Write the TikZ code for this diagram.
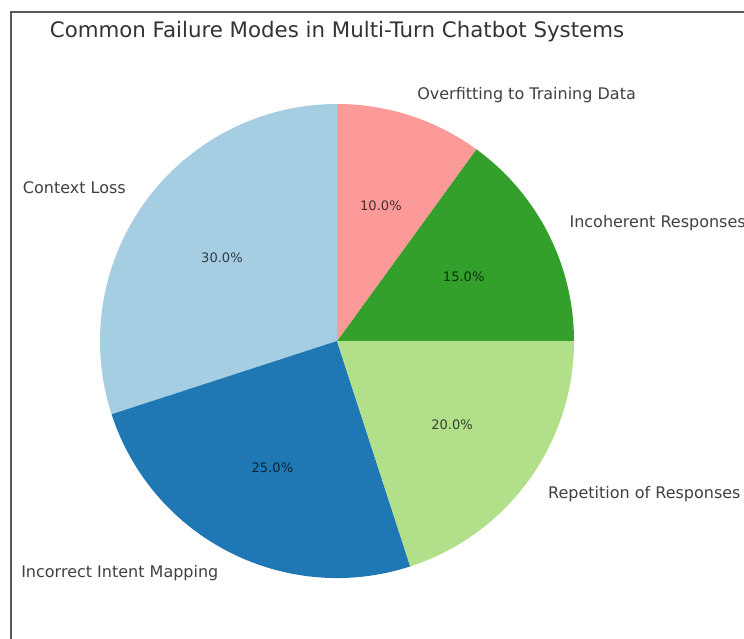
\documentclass[tikz,border=0pt]{standalone}
\usepackage{fontspec}
\setmainfont{DejaVu Sans}
\usepackage{xcolor}
\usetikzlibrary{positioning}

\definecolor{pairLightBlue}{HTML}{A6CEE3}
\definecolor{pairBlue}{HTML}{1F78B4}
\definecolor{pairLightGreen}{HTML}{B2DF8A}
\definecolor{pairGreen}{HTML}{33A02C}
\definecolor{pairPink}{HTML}{FB9A99}

\begin{document}
\begin{tikzpicture}[
    x=0.75pt, y=0.75pt,
    % Styles
    slice/.style={
        fill=#1,
        draw=none
    },
    slicelabel/.style={
        font=\fontsize{12}{14}\selectfont,
        text=black!75,
        inner sep=0pt
    },
    pct/.style={
        font=\fontsize{9.8}{12}\selectfont,
        text=black,
        text opacity=0.7,
        inner sep=0pt
    },
    heading/.style={
        font=\fontsize{16}{19}\selectfont,
        text=black!80,
        inner sep=0pt
    },
    frameline/.style={
        draw=black!65,
        line width=1.1pt
    }
]

\useasboundingbox (0,0) rectangle (744,639);

% Frame (left and top edges)
\draw[frameline] (11,-2) -- (11,627) -- (746,627);

% Title
\node[heading] (title) at (337,607) {Common Failure Modes in Multi-Turn Chatbot Systems};

\begin{scope}[shift={(337,298)}]
% Slices, counterclockwise from the top
\fill[slice=pairLightBlue] (0,0) -- (90:237) arc[start angle=90, end angle=198, radius=237] -- cycle;
\fill[slice=pairBlue] (0,0) -- (198:237) arc[start angle=198, end angle=288, radius=237] -- cycle;
\fill[slice=pairLightGreen] (0,0) -- (288:237) arc[start angle=288, end angle=360, radius=237] -- cycle;
\fill[slice=pairGreen] (0,0) -- (0:237) arc[start angle=0, end angle=54, radius=237] -- cycle;
\fill[slice=pairPink] (0,0) -- (54:237) arc[start angle=54, end angle=90, radius=237] -- cycle;

% Category labels
\node[slicelabel, anchor=east] (context) at (144:260.7) {Context Loss};
\node[slicelabel, anchor=east] (intent) at (243:260.7) {Incorrect Intent Mapping};
\node[slicelabel, anchor=west] (repetition) at (324:260.7) {Repetition of Responses};
\node[slicelabel, anchor=west] (incoherent) at (27:260.7) {Incoherent Responses};
\node[slicelabel, anchor=west] (overfitting) at (72:259) {Overfitting to Training Data};

% Percentages
\node[pct] (contextPct) at (144:142.2) {30.0\%};
\node[pct] (intentPct) at (243:142.2) {25.0\%};
\node[pct] (repetitionPct) at (324:142.2) {20.0\%};
\node[pct] (incoherentPct) at (27:142.2) {15.0\%};
\node[pct] (overfittingPct) at (72:142.2) {10.0\%};
\end{scope}

\end{tikzpicture}
\end{document}
